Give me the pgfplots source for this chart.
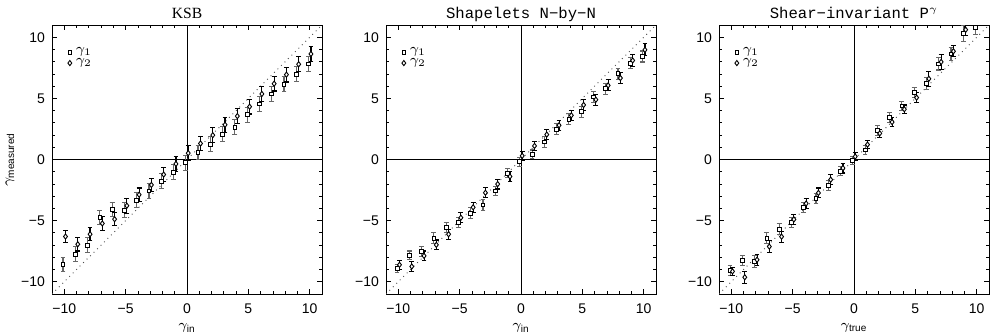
\documentclass[border=0pt]{standalone}
\usepackage{fontspec}
\setmainfont{Liberation Sans}
\newfontfamily\monof{Liberation Mono}
\newfontfamily\seriff{Liberation Serif}
\usepackage{pgfplots}
\pgfplotsset{compat=1.18}
\usepackage{pgfplotstable}

% KSB
\pgfplotstableread{
x y e
-10 -8.58 0.55
-9 -7.75 0.6
-8 -7.01 0.6
-7 -4.74 0.55
-6 -4.08 0.55
-5 -4.14 0.6
-4 -3.32 0.6
-3 -2.58 0.6
-2 -1.78 0.6
-1 -1.04 0.6
0 -0.27 0.6
1 0.57 0.6
2 1.26 0.6
3 2.08 0.6
4 2.65 0.6
5 3.66 0.6
6 4.54 0.6
7 5.36 0.6
8 6.17 0.6
9 6.97 0.6
10 7.81 0.6
}\ksbA
\pgfplotstableread{
x y e
-10 -6.30 0.5
-9 -6.93 0.55
-8 -6.11 0.55
-7 -5.23 0.55
-6 -4.88 0.55
-5 -3.78 0.6
-4 -2.88 0.55
-3 -2.08 0.55
-2 -1.23 0.6
-1 -0.36 0.6
0 0.52 0.6
1 1.31 0.6
2 1.99 0.6
3 2.84 0.6
4 3.55 0.6
5 4.32 0.6
6 5.36 0.6
7 6.20 0.6
8 6.94 0.6
9 7.79 0.6
10 8.63 0.6
}\ksbB
% Shapelets
\pgfplotstableread{
x y e
-10 -8.91 0.35
-9 -7.83 0.35
-8 -7.55 0.4
-7 -6.44 0.45
-6 -5.57 0.4
-5 -5.14 0.4
-4 -4.40 0.45
-3 -3.72 0.45
-2 -2.58 0.4
-1 -1.11 0.35
0 -0.19 0.35
1 0.43 0.35
2 1.44 0.45
3 2.47 0.45
4 3.29 0.45
5 3.91 0.45
6 5.11 0.45
7 5.79 0.45
8 7.01 0.45
9 7.88 0.45
10 8.42 0.45
}\shA
\pgfplotstableread{
x y e
-10 -8.61 0.35
-9 -8.75 0.4
-8 -7.88 0.4
-7 -6.98 0.4
-6 -6.11 0.4
-5 -4.76 0.4
-4 -3.91 0.4
-3 -2.72 0.4
-2 -2.01 0.4
-1 -1.39 0.4
0 0.30 0.35
1 1.11 0.35
2 2.04 0.4
3 2.80 0.4
4 3.61 0.4
5 4.46 0.45
6 4.89 0.45
7 6.06 0.45
8 6.66 0.45
9 8.10 0.5
10 8.97 0.5
}\shB
% Shear-invariant
\pgfplotstableread{
x y e
-10 -9.07 0.4
-9 -8.28 0.4
-8 -8.36 0.5
-7 -6.44 0.45
-6 -5.71 0.45
-5 -5.17 0.4
-4 -3.90 0.4
-3 -3.17 0.4
-2 -2.11 0.4
-1 -0.95 0.35
0 -0.08 0.35
1 0.78 0.35
2 2.35 0.4
3 3.46 0.4
4 4.38 0.4
5 5.47 0.4
6 6.20 0.5
7 7.82 0.5
8 8.63 0.5
9 10.31 0.65
10 10.80 0.6
}\pgA
\pgfplotstableread{
x y e
-10 -9.15 0.35
-9 -9.63 0.5
-8 -8.20 0.45
-7 -7.12 0.5
-6 -6.31 0.45
-5 -4.90 0.4
-4 -3.60 0.4
-3 -2.73 0.4
-2 -1.65 0.4
-1 -0.70 0.4
0 0.24 0.35
1 1.22 0.35
2 2.14 0.35
3 3.06 0.35
4 4.11 0.35
5 5.06 0.4
6 6.60 0.6
7 7.98 0.6
8 8.85 0.45
9 10.61 0.5
}\pgB

\pgfplotsset{
  every axis title shift=0pt,
  panel/.style={
    scale only axis, width=135pt, height=134.5pt,
    anchor=south west,
    xmin=-11, xmax=11, ymin=-11, ymax=11,
    xtick={-10,-5,0,5,10}, ytick={-10,-5,0,5,10},
    xticklabels={−10,−5,0,5,10}, yticklabels={−10,−5,0,5,10},
    minor tick num=4,
    tick align=inside,
    major tick length=2.6pt, minor tick length=1.3pt,
    tick style={black, line width=0.4pt},
    axis line style={line width=0.5pt},
    ticklabel style={font=\fontsize{7}{8}\selectfont},
    xticklabel style={yshift=-1.5pt},
    title style={at={(0.5,1)}, anchor=base, yshift=3.5pt, inner sep=0pt},
    xlabel style={font=\fontsize{7.5}{8}\selectfont, yshift=2pt},
    ylabel style={font=\fontsize{7.5}{8}\selectfont},
    legend style={draw=none, fill=none, at={(0.05,0.94)}, anchor=north west,
      font=\fontsize{7}{7}\selectfont, row sep=-3pt, inner sep=1pt},
    legend cell align=left,
  },
  sq/.style={only marks, mark=square*, mark size=0.95pt,
    mark options={fill=white, draw=black, line width=0.45pt},
    error bars/.cd, y dir=both, y explicit,
    error bar style={line width=0.55pt, black!60},
    error mark options={rotate=90, mark size=1.2pt, line width=0.55pt, black!60}},
  dm/.style={only marks, mark=diamond*, mark size=1.3pt,
    mark options={fill=white, draw=black, line width=0.45pt},
    error bars/.cd, y dir=both, y explicit,
    error bar style={line width=0.55pt, black},
    error mark options={rotate=90, mark size=1.2pt, line width=0.55pt, black}},
}
\newcommand{\refl}{%
  \addplot[black, line width=0.5pt, forget plot] coordinates {(-11,0) (11,0)};
  \addplot[black, line width=0.5pt, forget plot] coordinates {(0,-11) (0,11)};
  \addplot[black!70, dotted, line width=0.45pt, forget plot] coordinates {(-11,-11) (11,11)};
}

\begin{document}
\begin{tikzpicture}
\useasboundingbox (0,0) rectangle (495pt,166.5pt);
\begin{axis}[panel, at={(26pt,19.5pt)}, title={KSB},
  title style={font=\seriff\fontsize{7.8}{9}\selectfont},
  xlabel={$\gamma_{\mbox{\fontsize{5}{5}\selectfont in}}$},
  ylabel={$\gamma_{\mbox{\fontsize{5}{5}\selectfont measured}}$},
  ylabel shift=-3.5pt]
\refl
\addplot[sq] table[x expr=\thisrow{x}-0.1, y=y, y error=e] {\ksbA};
\addplot[dm] table[x expr=\thisrow{x}+0.1, y=y, y error=e] {\ksbB};
\legend{$\gamma_1$, $\gamma_2$}
\end{axis}
\begin{axis}[panel, at={(193pt,19.5pt)}, title={Shapelets N−by−N},
  title style={font=\monof\fontsize{7.8}{9}\selectfont},
  xlabel={$\gamma_{\mbox{\fontsize{5}{5}\selectfont in}}$}]
\refl
\addplot[sq] table[x expr=\thisrow{x}-0.1, y=y, y error=e] {\shA};
\addplot[dm] table[x expr=\thisrow{x}+0.1, y=y, y error=e] {\shB};
\legend{$\gamma_1$, $\gamma_2$}
\end{axis}
\begin{axis}[panel, at={(359.5pt,19.5pt)}, title={Shear−invariant P$^{\gamma}$},
  title style={font=\monof\fontsize{7.8}{9}\selectfont},
  xlabel={$\gamma_{\mbox{\fontsize{5}{5}\selectfont true}}$}]
\refl
\addplot[sq] table[x expr=\thisrow{x}-0.1, y=y, y error=e] {\pgA};
\addplot[dm] table[x expr=\thisrow{x}+0.1, y=y, y error=e] {\pgB};
\legend{$\gamma_1$, $\gamma_2$}
\end{axis}
\end{tikzpicture}
\end{document}
